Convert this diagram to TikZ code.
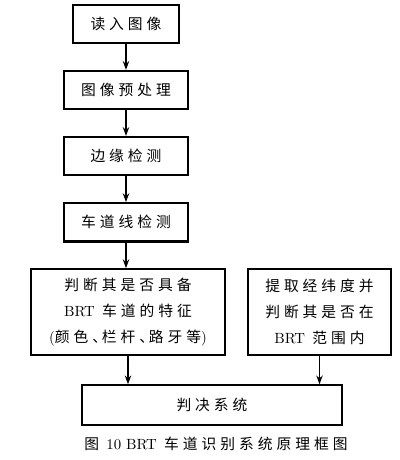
\documentclass[tikz,border=0pt]{standalone}
\usepackage{fontspec}
\newfontfamily\cjk[LetterSpace=27]{Noto Sans CJK SC}
\usetikzlibrary{positioning,arrows.meta}
\newcommand\lat[1]{{\rmfamily #1}}
\newcommand\dun{、\kern-0.35em}

\begin{document}
\begin{tikzpicture}[box/.style={rectangle,draw=black,line width=1.5pt,minimum height=0.96cm,align=center,font=\cjk\fontsize{10.5}{18.5}\selectfont}, arr/.style={line width=1.3pt,-{Stealth[length=2.2mm,width=1.6mm]}}, node distance = 0.64cm]
		\useasboundingbox (0,0) rectangle (10,-11.5);
		\node[box,minimum width=2.65cm] (read) at (3.15,-0.6) {读入图像};
		\node[box,minimum width=3.1cm] (prep)[below = of read]{图像预处理};
		\node[box,minimum width=3.08cm] (edge)[below = of prep]{边缘检测};
		\node[box,minimum width=3.1cm] (lane)[below = of edge]{车道线检测};
		\node[box,minimum width=4.85cm,minimum height=2.15cm] (feat)[below = of lane, xshift=0.05cm]{判断其是否具备\\\lat{BRT} 车道的特征\\\lat{(}颜色\dun 栏杆\dun 路牙等\lat{)}};
		\node[box,minimum width=3.58cm,minimum height=2.15cm] (gps)[right = 0.52cm of feat]{提取经纬度并\\判断其是否在\\\lat{BRT} 范围内};
		\node[box,minimum width=6.5cm,minimum height=1cm] (judge)[below = 0.7cm of feat, xshift=2.1cm]{判决系统};
		\node[font=\cjk\fontsize{10.5}{12}\selectfont] (cap) at (5.4,-11.1) {图 \lat{10 BRT} 车道识别系统原理框图};
		\draw[arr] (read) -- (prep);
		\draw[arr] (prep) -- (edge);
		\draw[arr] (edge) -- (lane);
		\draw[arr] (lane) -- (lane |- feat.north);
		\draw[arr] (feat) -- (feat |- judge.north);
		\draw[arr] (gps) -- (gps |- judge.north);
	\end{tikzpicture}
\end{document}
